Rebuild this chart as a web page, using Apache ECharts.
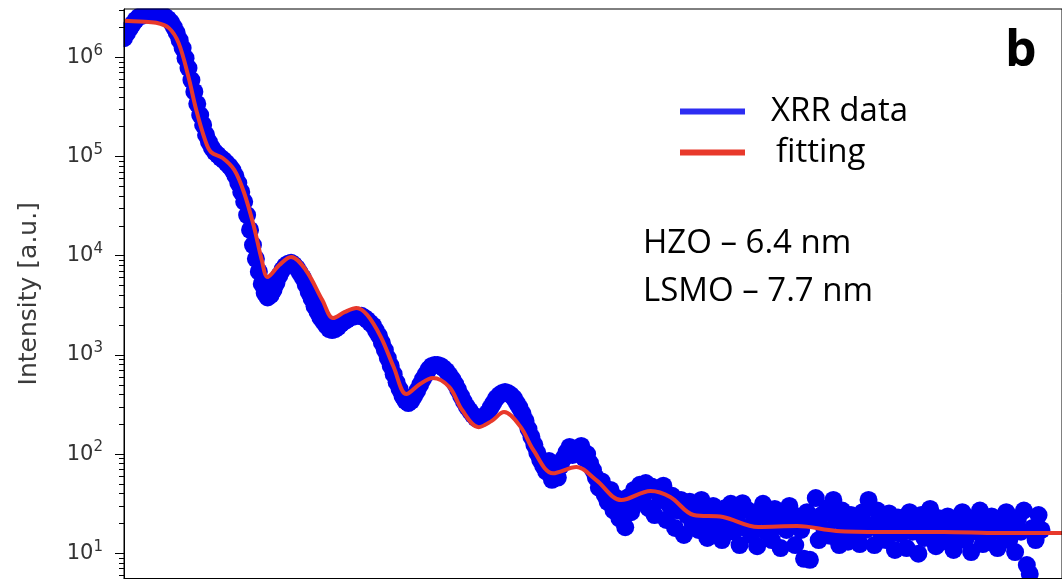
<!DOCTYPE html>
<html>
<head>
<meta charset="utf-8">
<script src="https://cdn.jsdelivr.net/npm/echarts@6/dist/echarts.min.js"></script>
<style>
  html, body { margin: 0; padding: 0; background: #fff; }
  #chart { width: 1062px; height: 580px; }
</style>
</head>
<body>
<div id="chart"></div>
<script>
// Measured XRR intensity (counts), sampled on a uniform 2θ grid
const angleStart = 0.2;   // deg
const angleStep = 0.02;   // deg
const xrrIntensity = [
  1.56e6, 1.75e6, 1.96e6, 2.17e6, 2.38e6, 2.55e6, 2.62e6, 2.70e6, 2.74e6, 2.76e6,
  2.76e6, 2.74e6, 2.70e6, 2.65e6, 2.58e6, 2.44e6, 2.27e6, 2.02e6, 1.76e6, 1.49e6,
  1.24e6, 9.8e5, 7.8e5, 5.9e5, 4.5e5, 3.4e5, 2.62e5, 2.08e5, 1.65e5, 1.40e5,
  1.22e5, 1.11e5, 1.04e5, 9.7e4, 9.2e4, 8.6e4, 8.0e4, 7.3e4, 6.4e4, 5.4e4,
  4.4e4, 3.5e4, 2.57e4, 1.82e4, 1.28e4, 9.3e3, 6.9e3, 5.2e3, 4.2e3, 3.8e3,
  4.0e3, 4.5e3, 5.3e3, 6.3e3, 7.2e3, 7.9e3, 8.3e3, 8.5e3, 8.1e3, 7.5e3,
  6.7e3, 6.0e3, 5.1e3, 4.3e3, 3.7e3, 3.1e3, 2.72e3, 2.37e3, 2.16e3, 1.97e3,
  1.82e3, 1.78e3, 1.82e3, 1.91e3, 2.05e3, 2.16e3, 2.25e3, 2.37e3, 2.42e3, 2.48e3,
  2.48e3, 2.48e3, 2.37e3, 2.25e3, 2.10e3, 1.97e3, 1.75e3, 1.56e3, 1.32e3, 1.12e3,
  930, 775, 640, 530, 453, 385, 343, 327, 343, 385,
  433, 498, 570, 640, 720, 775, 791, 791, 775, 735,
  690, 628, 570, 508, 443, 385, 337, 299, 273, 248,
  231, 226, 231, 243, 260, 292, 327, 366, 394, 412,
  422, 412, 394, 367, 327, 292, 254, 216, 179, 149,
  124, 103, 87, 76, 67, 85, 55, 69, 58, 76,
  91, 105, 118, 98, 112, 105, 121, 91, 100, 81,
  69, 58, 46, 53, 38.7, 33, 43.5, 27, 36, 22.5,
  30.7, 18.3, 36.8, 26, 43.5, 32, 49, 36, 51, 28.5,
  47, 24.3, 41.5, 34.5, 48, 21.7, 30.7, 38, 18, 27,
  34.5, 15.3, 24.3, 33, 19.7, 28.5, 17.2, 34.5, 20.7, 14.3,
  26, 30, 17.2, 22.5, 13.6, 28.5, 18.8, 31.5, 16.5, 23.5,
  12.1, 32, 18, 27, 15.3, 21.7, 11.8, 26, 31.5, 16.5,
  22.5, 13.6, 28, 18.8, 11.3, 25.2, 17.2, 30, 20.7, 12.1,
  23.5, 17.2, 8.8, 26, 8.6, 21.7, 36, 13.6, 24.3, 17.2,
  28.5, 15, 34.5, 21.7, 12.1, 27, 17.2, 13.1, 24.3, 15.3,
  21.2, 12.4, 26, 17.2, 34.5, 19.3, 12.1, 27, 16.5, 22.5,
  13.6, 25.2, 18, 10.8, 23, 15.7, 20.7, 11.3, 26, 16.5,
  21.7, 9.9, 24.3, 14.3, 19.7, 28, 15.7, 11.8, 22.5, 17.2,
  13.3, 23.5, 18, 10.8, 20.7, 15, 26, 13.6, 18.8, 10.3,
  22, 16.5, 27, 12.4, 19.7, 15, 23.5, 17.2, 11.3, 21.7,
  15.7, 26, 13.6, 18.8, 10.3, 22.5, 16.5, 27, 7.6, 6.2,
  18, 13.6, 24.3, 17.2
];

// Simulated reflectivity from the layer model
const fitAngle = [
  0.200, 0.307, 0.420, 0.507, 0.573, 0.640, 0.693, 0.753, 0.793, 0.873,
  0.953, 1.020, 1.087, 1.140, 1.180, 1.260, 1.340, 1.440, 1.553, 1.627,
  1.707, 1.787, 1.860, 1.953, 2.040, 2.127, 2.220, 2.307, 2.420, 2.507,
  2.620, 2.707, 2.793, 2.907, 2.993, 3.127, 3.287, 3.420, 3.593, 3.793,
  3.927, 4.087, 4.287, 4.527, 4.793, 5.060, 5.373, 5.793, 6.173, 6.600
];
const fitIntensity = [
  2.34e6, 2.30e6, 2.23e6, 1.97e6, 1.39e6, 6.32e5, 2.94e5, 1.47e5, 1.11e5, 9.66e4,
  7.31e4, 4.29e4, 1.95e4, 9.05e3, 6.10e3, 8.06e3, 9.71e3, 7.18e3, 3.57e3, 2.35e3,
  2.71e3, 2.97e3, 2.52e3, 1.51e3, 755, 403, 509, 585, 474, 278,
  187, 215, 265, 187, 110, 64, 74, 55, 34.4, 42.5,
  37, 24.3, 23.2, 18.4, 18.8, 16.8, 16.4, 16.4, 16.0, 16.0
];

// Axis ranges and ticks
const angleRange = [0.2, 6.6];
const intensityRange = [5.57, 3.07e6];
const majorTicks = [10, 100, 1000, 10000, 100000, 1000000];
const minorTicks = [
  6, 7, 8, 9,
  20, 30, 40, 50, 60, 70, 80, 90,
  200, 300, 400, 500, 600, 700, 800, 900,
  2000, 3000, 4000, 5000, 6000, 7000, 8000, 9000,
  20000, 30000, 40000, 50000, 60000, 70000, 80000, 90000,
  200000, 300000, 400000, 500000, 600000, 700000, 800000, 900000,
  2000000, 3000000
];

const seriesNames = ['XRR data', 'fitting'];
const layerNotes = ['HZO – 6.4 nm', 'LSMO – 7.7 nm'];
const panelLabel = 'b';
const yAxisTitle = 'Intensity [a.u.]';

const xrrPoints = xrrIntensity.map((v, i) => [+(angleStart + angleStep * i).toFixed(2), v]);
const fitPoints = fitAngle.map((a, i) => [a, fitIntensity[i]]);

const BLUE = '#0000f0';
const RED = '#e8392b';
const TICK_FONT = 'DejaVu Sans';
const TEXT_FONT = 'Open Sans';

const chart = echarts.init(document.getElementById('chart'), null, { renderer: 'canvas' });

chart.setOption({
  animation: false,
  backgroundColor: '#fff',
  grid: {
    left: 124, top: 9, right: -22, bottom: 1.5,
    show: true, borderColor: '#000', borderWidth: 1,
    backgroundColor: 'transparent', z: 10
  },
  xAxis: {
    type: 'value', min: angleRange[0], max: angleRange[1],
    axisLine: { show: true, lineStyle: { color: '#000', width: 1 } },
    axisTick: { show: false }, axisLabel: { show: false },
    splitLine: { show: false }, z: 10
  },
  yAxis: [
    {
      type: 'log', min: intensityRange[0], max: intensityRange[1], position: 'left',
      axisLine: { show: true, lineStyle: { color: '#000', width: 1 } },
      axisTick: { show: true, customValues: majorTicks, length: 9, lineStyle: { color: '#000', width: 1 } },
      axisLabel: {
        customValues: majorTicks, margin: 21,
        formatter: v => '{b|10}{s|' + Math.round(Math.log10(v)) + '}',
        rich: {
          b: { fontFamily: TICK_FONT, fontSize: 21, lineHeight: 28, color: '#333' },
          s: { fontFamily: TICK_FONT, fontSize: 15, lineHeight: 16, verticalAlign: 'top', color: '#333' }
        }
      },
      splitLine: { show: false },
      name: yAxisTitle, nameLocation: 'middle', nameGap: 82,
      nameTextStyle: { fontFamily: TICK_FONT, fontSize: 25, color: '#3a3a3a' },
      z: 10
    },
    {
      type: 'log', min: intensityRange[0], max: intensityRange[1], position: 'left',
      axisLine: { show: false },
      axisTick: { show: true, customValues: minorTicks, length: 5, lineStyle: { color: '#000', width: 1 } },
      axisLabel: { show: false },
      splitLine: { show: false },
      z: 10
    }
  ],
  legend: {
    orient: 'vertical', left: 675, top: 86,
    itemWidth: 65, itemHeight: 6, itemGap: 0, icon: 'rect',
    selectedMode: false,
    textStyle: { fontFamily: TEXT_FONT, fontSize: 33, color: '#000', lineHeight: 41, padding: [0, 0, 0, 21] },
    data: [
      { name: seriesNames[0], itemStyle: { color: '#2d2df2' } },
      { name: seriesNames[1], itemStyle: { color: RED }, textStyle: { padding: [0, 0, 0, 26] } }
    ],
    z: 20
  },
  graphic: [
    // white frame outside the plotting area so markers end at the axes
    { type: 'rect', shape: { x: 0, y: 0, width: 123.5, height: 580 }, style: { fill: '#fff' }, z: 5, silent: true },
    { type: 'rect', shape: { x: 0, y: 0, width: 1062, height: 8.5 }, style: { fill: '#fff' }, z: 5, silent: true },
    { type: 'rect', shape: { x: 0, y: 578.5, width: 1062, height: 2 }, style: { fill: '#fff' }, z: 5, silent: true },
    { type: 'text', x: 643, y: 244, z: 20,
      style: { text: layerNotes[0], font: '33px "' + TEXT_FONT + '"', fill: '#000', align: 'left', verticalAlign: 'middle' } },
    { type: 'text', x: 643, y: 292, z: 20,
      style: { text: layerNotes[1], font: '33px "' + TEXT_FONT + '"', fill: '#000', align: 'left', verticalAlign: 'middle' } },
    { type: 'text', x: 1005, y: 52, z: 20,
      style: { text: panelLabel, font: 'bold 50px "' + TEXT_FONT + '"', fill: '#000', align: 'left', verticalAlign: 'middle' } }
  ],
  series: [
    {
      name: seriesNames[0], type: 'scatter', yAxisIndex: 0,
      data: xrrPoints, symbol: 'circle', symbolSize: 18,
      itemStyle: { color: BLUE, opacity: 1 },
      silent: true, z: 2
    },
    {
      name: seriesNames[1], type: 'line', yAxisIndex: 0,
      data: fitPoints, smooth: 0.35, showSymbol: false,
      lineStyle: { color: RED, width: 4 },
      itemStyle: { color: RED },
      silent: true, z: 3
    }
  ]
});
</script>
</body>
</html>
